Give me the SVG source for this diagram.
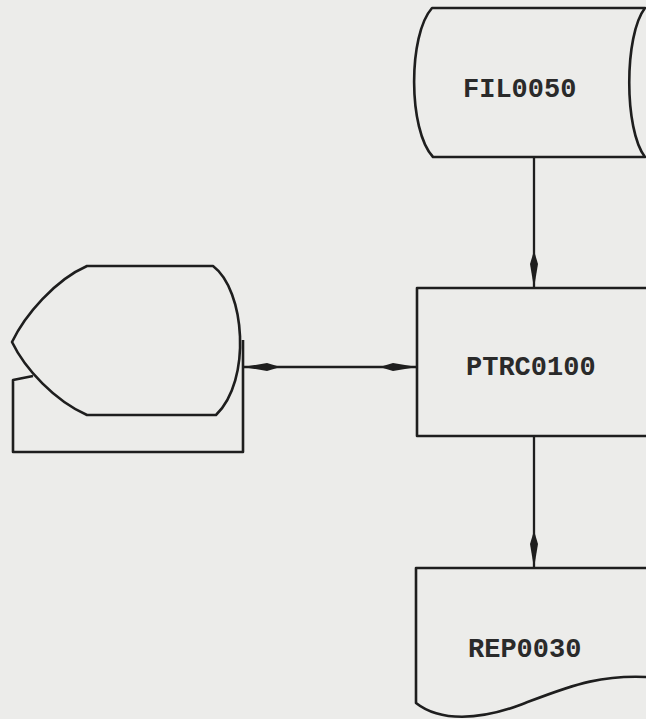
<svg xmlns="http://www.w3.org/2000/svg" width="646" height="719" viewBox="0 0 646 719">
<style>
.shape{fill:none;stroke:#1e1e1e;stroke-width:2.6;stroke-linejoin:round}
.lbl{font-family:"Liberation Mono","DejaVu Sans Mono",monospace;font-size:27px;font-weight:bold;fill:#2a2a2a}
.conn{stroke:#1e1e1e;stroke-width:2.3;fill:none}
</style>
<defs>
<marker id="ah" viewBox="-40 -6 42 12" refX="0" refY="0" markerWidth="42" markerHeight="12" markerUnits="userSpaceOnUse" orient="auto-start-reverse">
<path d="M0,0 L-24,-4 L-34,-1 L-34,1 L-24,4 Z" fill="#1e1e1e"/>
</marker>
</defs>
<rect width="646" height="719" fill="#ececea"/>
<g id="connectors">
<line class="conn" x1="534" y1="157" x2="534" y2="288" marker-end="url(#ah)"/>
<line class="conn" x1="534" y1="436" x2="534" y2="568" marker-end="url(#ah)"/>
<line class="conn" x1="243" y1="367" x2="417" y2="367" marker-start="url(#ah)" marker-end="url(#ah)"/>
</g>
<g id="FIL0050">
<path class="shape" d="M432,8 L645,8 C624,35 624,130 645,157 L433,157 C408,130 408,35 432,8 Z"/>
<text class="lbl" x="463" y="97">FIL0050</text>
</g>
<g id="PTRC0100">
<rect class="shape" x="417" y="288" width="250" height="148"/>
<text class="lbl" x="466" y="375">PTRC0100</text>
</g>
<g id="REP0030">
<path class="shape" d="M660,568 L416,568 L416,703 C440,722 480,720 520,705 C565,688 600,672 660,678"/>
<text class="lbl" x="468" y="657">REP0030</text>
</g>
<g id="display">
<path class="shape" d="M87,266 L213,266 C245,290 252,380 216,415 L87,415 C55,401 25,369 12,342 C25,315 55,280 87,266 Z"/>
<path class="shape" d="M33,376 L13,380 L13,452 L243,452 L243,340"/>
</g>
</svg>
